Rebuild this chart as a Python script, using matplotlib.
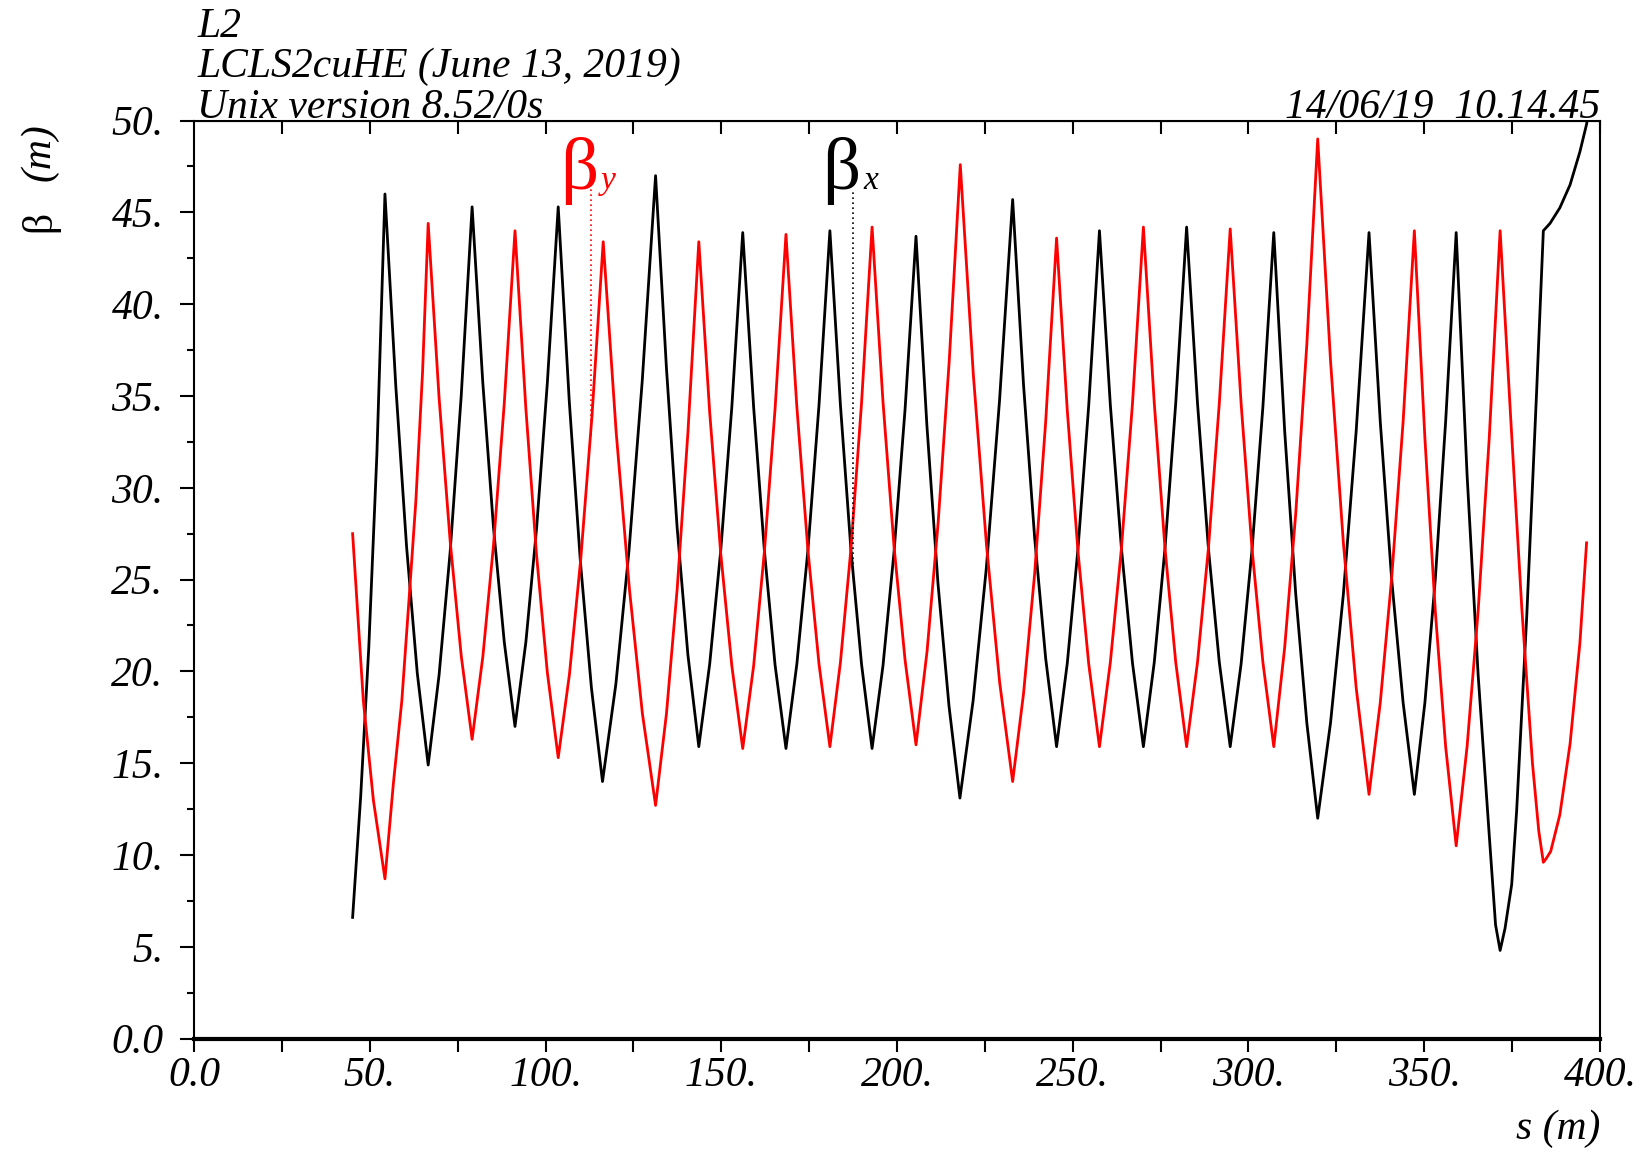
import matplotlib
matplotlib.use('Agg')
import matplotlib.pyplot as plt

# beta_x (black): s in m, beta in m
bx_s = [45.1, 47.4, 49.7, 52.0, 54.3, 57.4, 60.45, 63.5, 66.6, 69.7, 72.85, 76.0,
        79.1, 82.15, 85.2, 88.25, 91.3, 94.4, 97.45, 100.5, 103.6, 106.75, 109.9, 113.05,
        116.2, 120.0, 123.75, 127.5, 131.3, 134.4, 137.45, 140.5, 143.6, 146.7, 149.85, 153.0,
        156.1, 159.2, 162.25, 165.3, 168.4, 171.5, 174.65, 177.8, 180.9, 183.9, 186.9, 189.9,
        192.9, 196.0, 199.15, 202.3, 205.4, 208.5, 211.65, 214.8, 217.9, 221.65, 225.4, 229.15,
        232.9, 236.0, 239.15, 242.3, 245.4, 248.45, 251.5, 254.55, 257.6, 260.7, 263.85, 267.0,
        270.1, 273.2, 276.25, 279.3, 282.4, 285.5, 288.6, 291.7, 294.8, 297.9, 301.0, 304.1,
        307.2, 310.3, 313.45, 316.6, 319.7, 323.35, 327.0, 330.65, 334.3, 337.5, 340.75, 344.0,
        347.2, 350.2, 353.15, 356.1, 359.1, 362.2, 365.35, 368.5, 370.3, 371.6, 373.0, 374.9,
        376.3, 379.2, 382.0, 383.9, 385.8, 388.6, 391.5, 394.3, 396.2, 396.6]
bx_beta = [6.6, 13.2, 21.3, 31.8, 46.0, 35.5, 26.8, 19.9, 14.9, 19.8, 26.5, 35.0,
           45.3, 35.7, 27.8, 21.6, 17.0, 21.6, 27.8, 35.7, 45.3, 34.7, 26.0, 19.1,
           14.0, 19.3, 26.6, 35.8, 47.0, 36.5, 27.8, 20.9, 15.9, 20.4, 26.6, 34.4,
           43.9, 34.4, 26.6, 20.35, 15.8, 20.4, 26.6, 34.5, 44.0, 34.5, 26.6, 20.4,
           15.8, 20.3, 26.5, 34.3, 43.7, 33.4, 24.8, 18.1, 13.1, 18.4, 25.6, 34.7,
           45.7, 35.6, 27.3, 20.7, 15.9, 20.45, 26.7, 34.5, 44.0, 34.5, 26.7, 20.45,
           15.9, 20.5, 26.7, 34.6, 44.2, 34.6, 26.7, 20.5, 15.9, 20.4, 26.6, 34.4,
           43.9, 33.1, 24.2, 17.2, 12.0, 17.2, 24.2, 33.1, 43.9, 33.6, 25.0, 18.3,
           13.3, 18.3, 25.0, 33.6, 43.9, 30.7, 19.8, 11.1, 6.2, 4.8, 6.0, 8.4,
           12.4, 23.1, 35.3, 44.0, 44.4, 45.25, 46.5, 48.3, 49.8, 50.3]

# beta_y (red)
by_s = [45.1, 46.3, 48.15, 51.0, 54.3, 56.7, 59.1, 61.4, 63.1, 65.0, 66.6,
        69.7, 72.85, 76.0, 79.1, 82.15, 85.2, 88.25, 91.3, 94.4, 97.45, 100.5, 103.6,
        106.8, 110.0, 113.2, 116.4, 120.1, 123.85, 127.55, 131.3, 134.4, 137.45, 140.5, 143.6,
        146.7, 149.85, 153.0, 156.1, 159.2, 162.25, 165.3, 168.4, 171.5, 174.65, 177.8, 180.9,
        183.9, 186.9, 189.9, 192.9, 196.0, 199.15, 202.3, 205.4, 208.55, 211.7, 214.85, 218.0,
        221.7, 225.45, 229.2, 232.9, 236.0, 239.15, 242.3, 245.4, 248.45, 251.5, 254.55, 257.6,
        260.7, 263.85, 267.0, 270.1, 273.2, 276.25, 279.3, 282.4, 285.5, 288.6, 291.7, 294.8,
        297.9, 301.0, 304.1, 307.2, 310.3, 313.45, 316.6, 319.7, 323.35, 327.0, 330.65, 334.3,
        337.5, 340.75, 344.0, 347.2, 350.2, 353.15, 356.1, 359.1, 362.2, 365.35, 368.5, 371.6,
        374.7, 377.75, 380.8, 382.6, 383.9, 384.7, 386.0, 388.6, 391.5, 394.3, 396.2]
by_beta = [27.5, 23.9, 18.4, 13.0, 8.7, 13.9, 18.4, 24.6, 29.3, 36.3, 44.4,
           34.9, 27.1, 20.85, 16.3, 20.8, 26.9, 34.6, 44.0, 34.3, 26.3, 19.95, 15.3,
           19.85, 26.1, 33.9, 43.4, 33.0, 24.5, 17.7, 12.7, 17.7, 24.5, 33.0, 43.4,
           34.1, 26.4, 20.3, 15.8, 20.3, 26.5, 34.3, 43.8, 34.4, 26.6, 20.4, 15.9,
           20.5, 26.7, 34.6, 44.2, 34.7, 26.8, 20.6, 16.0, 21.1, 28.1, 36.9, 47.6,
           36.2, 26.9, 19.4, 14.0, 18.8, 25.3, 33.6, 43.6, 34.2, 26.5, 20.4, 15.9,
           20.5, 26.7, 34.6, 44.2, 34.6, 26.7, 20.5, 15.9, 20.5, 26.7, 34.6, 44.1,
           34.6, 26.7, 20.5, 15.9, 21.3, 28.6, 37.8, 49.0, 36.9, 27.0, 19.1, 13.3,
           18.3, 25.1, 33.6, 44.0, 32.7, 23.3, 15.9, 10.5, 15.9, 23.3, 32.7, 44.0,
           33.5, 23.5, 15.0, 11.3, 9.6, 9.8, 10.2, 12.2, 16.05, 21.55, 27.0]

x_ticks = [0, 50, 100, 150, 200, 250, 300, 350, 400]
x_tick_labels = ['0.0', '50.', '100.', '150.', '200.', '250.', '300.', '350.', '400.']
y_ticks = [0, 5, 10, 15, 20, 25, 30, 35, 40, 45, 50]
y_tick_labels = ['0.0', '5.', '10.', '15.', '20.', '25.', '30.', '35.', '40.', '45.', '50.']

header_lines = ['L2', 'LCLS2cuHE (June 13, 2019)', 'Unix version 8.52/0s']
date_text = '14/06/19  10.14.45'

# label marker lines: (s, beta_top, beta_bottom)
by_marker = (112.8, 46.5, 32.8)
bx_marker = (187.5, 46.2, 25.6)


def main():
    plt.rcParams['font.family'] = ['Liberation Serif', 'DejaVu Serif']
    fs = 30

    fig = plt.figure(figsize=(16.45, 11.55), dpi=100)
    ax = fig.add_axes([0.118, 0.1008, 0.8546, 0.7948])

    ax.plot(bx_s, bx_beta, color='black', lw=2.0)
    ax.plot(by_s, by_beta, color='red', lw=2.0)

    ax.set_xlim(0, 400)
    ax.set_ylim(0, 50)

    # marker lines + labels
    for (s, top, bot), col, sub in [(by_marker, 'red', 'y'), (bx_marker, 'black', 'x')]:
        ax.plot([s, s], [bot, top], color=col, lw=1.2, ls=(0, (1, 2)))
        ax.text(s + 2.1, 46.3, 'β', color=col, fontsize=54, ha='right', va='baseline')
        ax.text(s + 2.8, 46.3, sub, color=col, fontsize=24, style='italic',
                ha='left', va='baseline')

    for sp in ['left', 'top', 'right']:
        ax.spines[sp].set_linewidth(1.5)
    ax.spines['bottom'].set_linewidth(3)

    ax.set_xticks(x_ticks, x_tick_labels)
    ax.set_xticks(range(25, 400, 50), minor=True)
    ax.set_yticks(y_ticks, y_tick_labels)
    ax.set_yticks([2.5 + 5 * i for i in range(10)], minor=True)
    ax.tick_params(axis='x', which='both', direction='out', length=9, width=1.5, pad=4)
    ax.tick_params(axis='y', which='major', direction='out', length=10, width=1.5, pad=12)
    ax.tick_params(axis='y', which='minor', direction='out', length=5, width=1.5)
    for lab in ax.get_xticklabels() + ax.get_yticklabels():
        lab.set_fontsize(fs)
        lab.set_style('italic')

    top_ax = ax.secondary_xaxis('top')
    top_ax.set_xticks(range(25, 401, 25))
    top_ax.tick_params(direction='in', length=9, width=1.5, labeltop=False)

    # header
    ys = [0.968, 0.933, 0.898]
    for txt, y in zip(header_lines, ys):
        fig.text(0.120, y, txt, fontsize=fs, style='italic', ha='left', va='baseline')
    fig.text(0.9726, 0.898, date_text, fontsize=fs, style='italic', ha='right', va='baseline')

    fig.text(0.9726, 0.014, 's (m)', fontsize=fs, style='italic', ha='right', va='baseline')
    fig.text(0.024, 0.808, 'β', fontsize=fs, rotation=90, ha='center', va='center')
    fig.text(0.024, 0.868, '(m)', fontsize=fs, style='italic', rotation=90, ha='center', va='center')

    fig.savefig('out.png', dpi=100)


if __name__ == '__main__':
    main()
